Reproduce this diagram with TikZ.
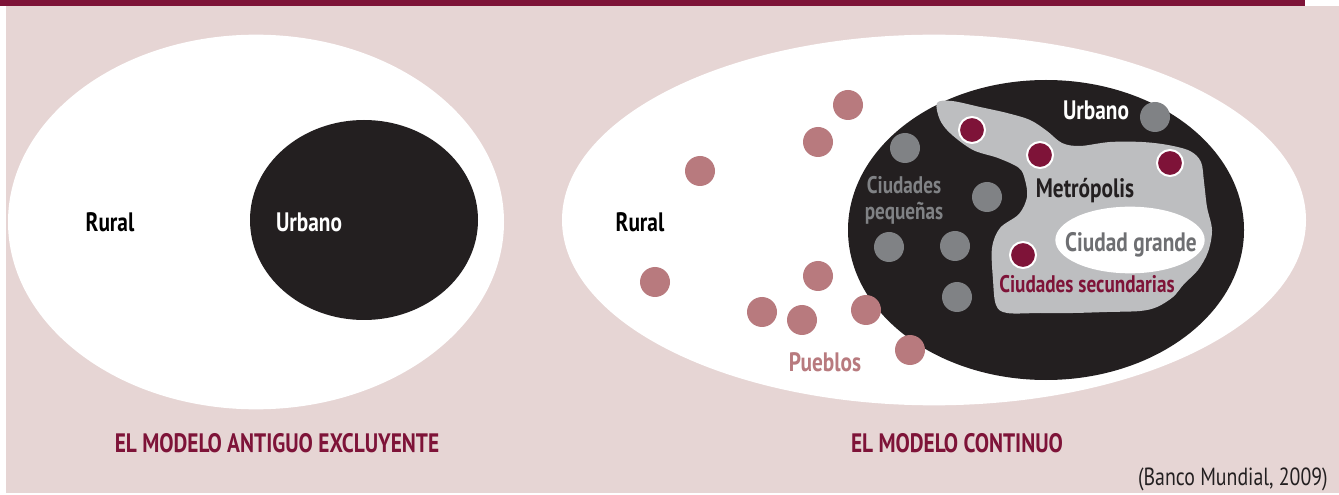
\documentclass[tikz,border=0pt]{standalone}
\usepackage{fontspec}
\setmainfont{PT Sans}[FakeStretch=0.8]
\usepackage{tikz}
\usetikzlibrary{shapes.geometric, positioning}
\definecolor{myred}{RGB}{126,19,56}
\definecolor{mydark}{RGB}{35,31,32}
\definecolor{mybg}{RGB}{230,213,212}
\definecolor{mygray}{RGB}{128,130,133}
\definecolor{mylight}{RGB}{189,190,192}
\definecolor{mypink}{RGB}{184,122,126}
\definecolor{mytxtgray}{RGB}{110,111,114}
\tikzset{
  biglbl/.style={font=\bfseries\fontsize{20}{22}\selectfont, inner sep=0pt},
  smalllbl/.style={font=\bfseries\fontsize{18}{19.5}\selectfont, inner sep=0pt},
  zone/.style={ellipse, inner sep=0pt},
  pueblo/.style={circle, fill=mypink, minimum size=22.5pt, inner sep=0pt},
  ciudad/.style={circle, fill=mygray, minimum size=22.5pt, inner sep=0pt},
  metro/.style={circle, fill=myred, draw=white, line width=1.5pt,
    minimum size=19.5pt, inner sep=0pt}
}

\begin{document}
\begin{tikzpicture}[x=0.75pt, y=-0.75pt]
  \useasboundingbox (0,0) rectangle (1339,495);
  % Background and top band
  \fill[mybg] (6,6) rectangle (1339,493);
  \fill[myred] (0,0) rectangle (1305,6);

  % Old model: rural / urban
  \node[zone, fill=white, minimum width=372pt, minimum height=281pt] (rural-a) at (256,222) {};
  \node[zone, fill=mydark, minimum width=171pt, minimum height=150pt] (urbano-a) at (364,220) {};
  \node[biglbl, anchor=base] (rural-a-txt) at (110,232) {Rural};
  \node[biglbl, anchor=base, white] (urbano-a-txt) at (309,232) {Urbano};
  \node[biglbl, anchor=base, myred] (titulo-a) at (277,452) {EL MODELO ANTIGUO EXCLUYENTE};

  % Continuous model
  \node[zone, fill=white, minimum width=558pt, minimum height=278pt] (rural-b) at (934,220) {};
  \node[zone, fill=mydark, minimum width=297pt, minimum height=225pt] (urbano-b) at (1046,230) {};
  % Metropolis area
  \fill[mylight] plot[smooth cycle, tension=0.55] coordinates {
    (937,103) (952,101) (980,107) (1007,113) (1030,120) (1047,131)
    (1062,143) (1080,146) (1110,142) (1142,142) (1168,145) (1190,151)
    (1201,162) (1204,182) (1207,207) (1212,230) (1208,252) (1198,270)
    (1184,284) (1173,297) (1157,307) (1140,311) (1107,312) (1073,313)
    (1040,313) (1007,313) (996,305) (993,280) (992,248) (1000,228)
    (1019,214) (1027,197) (1025,180) (1019,168) (998,158) (973,150)
    (951,134) (940,120)};
  \node[zone, fill=white, minimum width=112pt, minimum height=50pt] (grande) at (1130,240) {};

  % Towns
  \foreach \i/\p in {1/{848,105}, 2/{818,142}, 3/{700,171}, 4/{655,282},
                     5/{818,276}, 6/{762,312}, 7/{802,320}, 8/{866,310}, 9/{910,350}}
    \node[pueblo] (pueblo-\i) at (\p) {};
  % Small cities
  \foreach \i/\p in {1/{905,148}, 2/{987,197}, 3/{889,247}, 4/{955,246},
                     5/{957,297}, 6/{1155,117}}
    \node[ciudad] (ciudad-\i) at (\p) {};
  % Secondary cities
  \foreach \i/\p in {1/{972,130}, 2/{1040,155}, 3/{1170,163}, 4/{1023,255}}
    \node[metro] (sec-\i) at (\p) {};

  \node[biglbl, anchor=base] (rural-b-txt) at (640,232) {Rural};
  \node[biglbl, anchor=base, white] (urbano-b-txt) at (1096,120) {Urbano};
  \node[biglbl, anchor=base, mydark] (metro-txt) at (1085,198) {Metrópolis};
  \node[smalllbl, align=center, mygray] (pequenas-txt) at (904,200) {Ciudades\\pequeñas};
  \node[biglbl, anchor=base, mytxtgray] (grande-txt) at (1131,252) {Ciudad grande};
  \node[smalllbl, anchor=base, myred] (sec-txt) at (1087,293) {Ciudades secundarias};
  \node[biglbl, anchor=base, mypink] (pueblos-txt) at (825,372) {Pueblos};
  \node[biglbl, anchor=base, myred] (titulo-b) at (957,452) {EL MODELO CONTINUO};

  % Source
  \node[font=\fontsize{18.6}{20}\selectfont, inner sep=0pt, anchor=base east, mydark]
    (fuente) at (1328,485) {(Banco Mundial, 2009)};
\end{tikzpicture}
\end{document}
